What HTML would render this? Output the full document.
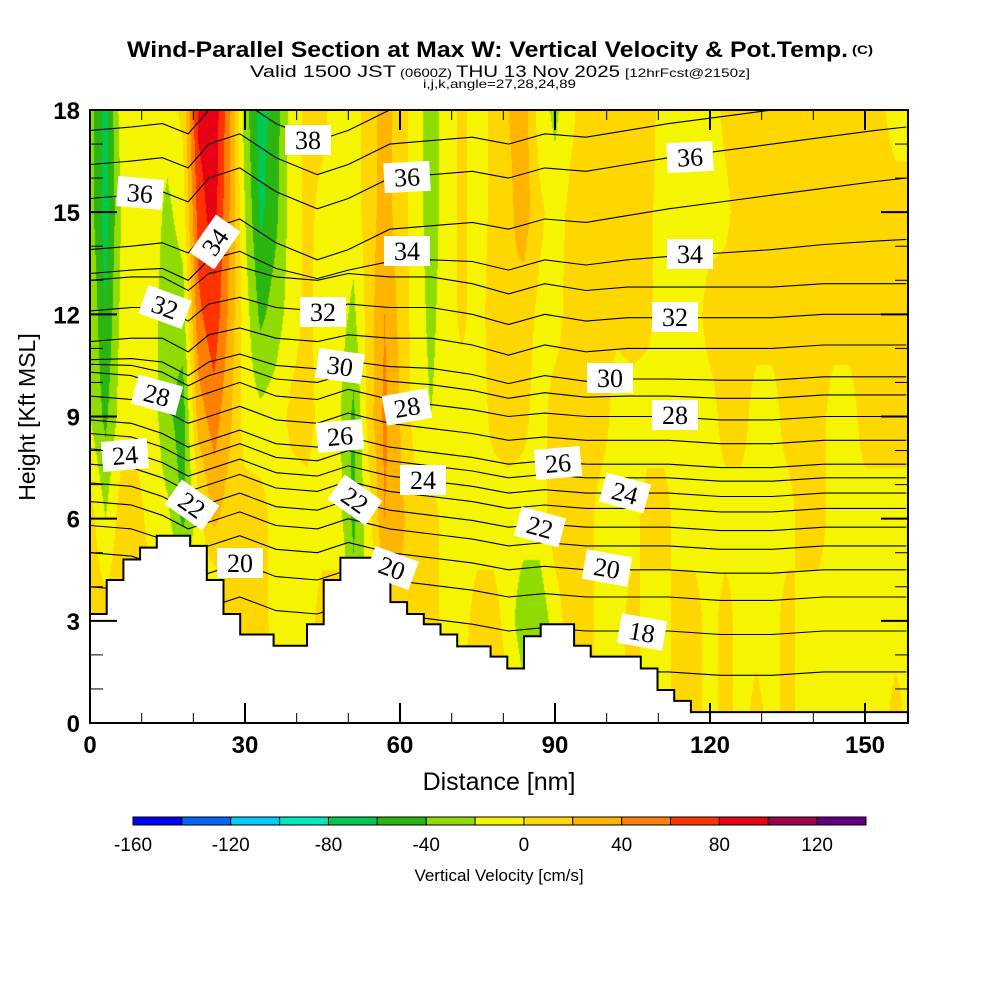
<!DOCTYPE html>
<html><head><meta charset="utf-8">
<style>
html,body{margin:0;padding:0;background:#fff;}
#wrap{position:relative;width:1000px;height:1000px;overflow:hidden;}
canvas{position:absolute;left:90px;top:110px;}
svg{position:absolute;left:0;top:0;}
</style></head>
<body>
<div id="wrap">
<canvas id="field" width="818" height="613"></canvas>
<svg id="svg" width="1000" height="1000" xmlns="http://www.w3.org/2000/svg">
  <defs><clipPath id="plotclip"><rect x="90" y="110" width="818" height="613"/></clipPath></defs>
  <g id="title" font-family="Liberation Sans, sans-serif" fill="#000">
    <text x="127" y="57" font-size="22" font-weight="bold" textLength="721" lengthAdjust="spacingAndGlyphs">Wind-Parallel Section at Max W: Vertical Velocity &amp; Pot.Temp.</text>
    <text x="852" y="54" font-size="12" font-weight="bold" textLength="21" lengthAdjust="spacingAndGlyphs">(C)</text>
    <text x="250" y="77" font-size="17"><tspan textLength="146" lengthAdjust="spacingAndGlyphs">Valid 1500 JST</tspan><tspan x="400" font-size="12" textLength="52" lengthAdjust="spacingAndGlyphs">(0600Z)</tspan><tspan x="456" textLength="164" lengthAdjust="spacingAndGlyphs">THU 13 Nov 2025</tspan><tspan x="625" font-size="12" textLength="125" lengthAdjust="spacingAndGlyphs">[12hrFcst@2150z]</tspan></text>
    <text x="423" y="88" font-size="12" textLength="153" lengthAdjust="spacingAndGlyphs">i,j,k,angle=27,28,24,89</text>
  </g>
  <g id="lines" clip-path="url(#plotclip)"></g>
  <g id="terrain"></g>
  <g id="labels"></g>
  <g id="axes"></g>
  <g id="cbar"></g>
</svg>
</div>
<script>
// ---------- data ----------
const wCols = [0,3,6,9,12,15,18,21,24,27,30,33,36,39,42,45,48,51,54,57,60,63,66,69,72,75,78,81,84,87,90,93,96,99,102,105,108,111,114,117,120,123,126,129,132,135,138,141,144,147,150,153,156,159];
const wHeights = [18,15,12,9,6,3,0];
const wRow18 = [-30,-70,-10,-10,-10,-10,5,85,95,45,-30,-70,-50,-10,5,5,-10,-10,10,30,10,-10,-30,-10,5,-10,5,20,30,-10,-25,-5,10,10,10,10,10,-10,-10,-10,-10,5,10,10,10,10,10,10,10,10,10,5,-10,-10];
const wRow15 = [-30,-70,-20,-10,-10,-25,-10,70,90,40,-20,-65,-45,-10,5,-5,-10,-10,10,30,10,-10,-30,-10,5,-10,5,15,30,5,-10,5,10,10,10,10,5,-10,-10,-10,-10,-5,10,10,10,10,10,10,10,10,10,10,10,10];
const wRow12 = [-20,-60,-15,-10,-10,-35,-30,55,75,35,-10,-45,-30,-10,5,-10,-10,-25,10,40,15,-10,-25,-10,5,-10,10,20,10,-5,-10,10,10,10,5,10,5,-10,-10,-10,10,10,10,10,10,10,10,10,10,10,10,10,10,10];
const wRow9 = [-20,-45,-10,-10,-10,-35,-50,30,50,25,-10,-15,-10,5,10,-10,-15,-45,10,45,20,-10,-20,-10,-10,-10,5,10,5,-10,10,10,10,10,-10,-10,-10,-10,-10,-10,-10,10,10,-10,-10,10,10,10,-10,-10,10,10,10,10];
const wRow6 = [10,-20,10,10,-10,-15,-45,-10,25,10,10,10,-10,-10,-10,-10,-10,-45,-10,40,25,10,10,-10,-10,-10,-10,-10,-10,-10,10,10,10,-10,-10,-10,10,10,-10,-10,-10,-10,-10,-10,-10,-10,10,10,-10,-10,-10,-10,-10,-10];
const wRow3 = [10,10,10,10,10,10,10,-10,-30,10,10,10,-10,-10,-10,10,10,-30,-10,10,15,10,10,-10,-10,10,10,-10,-35,-35,-10,10,10,-10,-10,10,-10,-10,10,10,-10,10,-10,-10,-10,10,-10,-10,-10,-10,-10,-10,-10,-10];
const wRow0 = [10,10,10,10,10,10,10,10,10,10,10,10,10,10,10,10,10,10,10,10,10,10,10,10,10,10,10,10,-10,-10,-10,10,10,-10,-10,10,-10,-10,10,10,-10,10,-10,10,-10,10,-10,-10,-10,-10,-10,-10,10,-10];
const wRows = [wRow18,wRow15,wRow12,wRow9,wRow6,wRow3,wRow0];

const binEdges = [-160,-140,-120,-100,-80,-60,-40,-20,0,20,40,60,80,100,120,140];
const binColors = ["#0000ff","#0066ff","#00ccff","#00e8c0","#00c850","#2ab510","#90dc00","#f5f500","#ffd700","#ffb400","#ff7f00","#ff3300","#e80014","#a00046","#600080"];
const cbarTicks = [-160,-120,-80,-40,0,40,80,120];

const terrainStep = 158.3/49;
const terrainKft = [3.2,4.2,4.8,5.15,5.5,5.5,5.2,4.2,3.2,2.6,2.6,2.27,2.27,2.9,4.2,4.85,4.85,4.85,3.55,3.2,2.9,2.6,2.25,2.25,1.95,1.6,2.55,2.9,2.9,2.27,1.95,1.95,1.95,1.6,0.97,0.65,0.32,0.32,0.32,0.32,0.32,0.32,0.32,0.32,0.32,0.32,0.32,0.32,0.32];

const thetaLevels = [17,18,19,20,21,22,23,24,25,26,27,28,29,30,31,32,33,34,35,36,37,38];
const thetaBase = [1.5,2.7,3.7,4.5,5.2,5.75,6.3,6.75,7.2,7.6,8.3,9.0,9.6,10.1,11.0,11.9,12.8,13.7,15.1,16.6,17.6,18.6];
const thetaX = [0,8,14,19,23,29,36,44,50,58,66,74,81,88,96,104,112,122,132,142,152,158];
const waveLow = [1.3,1.2,0.9,0.5,0.7,1.0,0.6,0.5,0.8,0.5,0.35,0.2,0,0.1,0,0,0,-0.1,-0.1,0,0,0];
const waveHigh = [0.2,0.3,0.3,-0.1,0.4,0.6,0.3,0.2,0.4,0.3,0.3,0.1,-0.2,0.1,-0.1,0,0,0,0,0.1,0.1,0.1];
const waveTop = [-1.2,-1.1,-1.0,-1.3,-0.6,-0.3,-1.0,-1.5,-1.2,-0.6,-0.5,-0.4,-0.6,-0.3,-0.4,-0.2,0,0.2,0.4,0.6,0.8,0.9];

const labelText = ["38","36","36","36","34","34","34","32","32","32","30","30","28","28","28","26","26","24","24","24","22","22","22","20","20","20","18"];
const labelPos = [[308,140,0],[140,193,5],[407,177,-3],[690,157,-3],[215,242,-55],[407,251,0],[690,254,0],[165,307,20],[323,312,0],[675,317,0],[340,366,8],[610,378,0],[157,395,15],[407,407,-10],[675,415,0],[340,436,-5],[558,463,-5],[125,455,-5],[423,480,0],[625,493,15],[192,505,35],[355,500,35],[540,527,15],[240,563,0],[392,568,20],[607,568,10],[642,632,10]];

const xTicks = [0,30,60,90,120,150];
const yTicks = [0,3,6,9,12,15,18];

// ---------- scales ----------
const X0=90, X1=908, Y0=723, Y1=110;
const xScale = nm => X0 + nm*(155/30);
const yScale = k => Y0 - k*(613/18);
const NS="http://www.w3.org/2000/svg";
function mk(tag, attrs, parent){const e=document.createElementNS(NS,tag);for(const k in attrs)e.setAttribute(k,attrs[k]);if(parent)parent.appendChild(e);return e;}

// ---------- field ----------
function hex(c){return [parseInt(c.substr(1,2),16),parseInt(c.substr(3,2),16),parseInt(c.substr(5,2),16)];}
const rgb = binColors.map(hex);
(function(){
  const cv=document.getElementById('field'),ctx=cv.getContext('2d');
  const img=ctx.createImageData(818,613);
  for(let py=0;py<613;py++){
    const k=(Y0-(110+py+0.5))/(613/18);
    let r=0; while(r<wHeights.length-2 && k<wHeights[r+1]) r++;
    const h0=wHeights[r],h1=wHeights[r+1];
    const fy=Math.min(1,Math.max(0,(h0-k)/(h0-h1)));
    for(let px=0;px<818;px++){
      const nm=(px+0.5)/(155/30);
      let c=Math.floor(nm/3); if(c>wCols.length-2)c=wCols.length-2;
      const fx=Math.min(1,Math.max(0,(nm-wCols[c])/3));
      const a=wRows[r][c]*(1-fx)+wRows[r][c+1]*fx;
      const b=wRows[r+1][c]*(1-fx)+wRows[r+1][c+1]*fx;
      const v=a*(1-fy)+b*fy;
      let bi=binColors.length-1; for(let i=0;i<binColors.length;i++){if(v<binEdges[i+1]){bi=i;break;}}
      const o=(py*818+px)*4, col=rgb[bi];
      img.data[o]=col[0];img.data[o+1]=col[1];img.data[o+2]=col[2];img.data[o+3]=255;
    }
  }
  ctx.putImageData(img,0,0);
})();

// ---------- theta contours ----------
const gLines=document.getElementById('lines');
thetaLevels.forEach((lev,li)=>{
  const f1=Math.min(1,Math.max(0,(lev-28)/3)), f2=Math.min(1,Math.max(0,(lev-33)/2));
  const pts=thetaX.map((x,i)=>{
    const w=(waveLow[i]*(1-f1)+waveHigh[i]*f1)*(1-f2)+waveTop[i]*f2;
    return xScale(x).toFixed(1)+","+yScale(thetaBase[li]+w).toFixed(1);
  }).join(" ");
  const pl=mk('polyline',{points:pts,fill:'none',stroke:'#000','stroke-width':1.1},gLines);
  
  
});

// ---------- terrain ----------
(function(){
  const g=document.getElementById('terrain');
  let d="M"+X0+","+Y0;
  terrainKft.forEach((h,i)=>{
    const xa=xScale(i*terrainStep), xb=Math.min(X1,xScale((i+1)*terrainStep));
    d+=" L"+xa.toFixed(1)+","+yScale(h).toFixed(1)+" L"+xb.toFixed(1)+","+yScale(h).toFixed(1);
  });
  d+=" L"+X1+","+Y0+" Z";
  const p=mk('path',{d:d,fill:'#fff',stroke:'#000','stroke-width':2},g);
  
  
})();

// ---------- contour labels ----------
(function(){
  const g=document.getElementById('labels');
  labelText.forEach((t,i)=>{
    const [x,y,a]=labelPos[i];
    const gg=mk('g',{transform:`translate(${x},${y}) rotate(${a})`},g);
    
    
    mk('rect',{x:-23,y:-15,width:46,height:30,fill:'#fff'},gg);
    const tx=mk('text',{x:0,y:9,'text-anchor':'middle','font-family':'Liberation Serif, serif','font-size':26,fill:'#000'},gg);
    tx.textContent=t;
  });
})();

// ---------- axes ----------
(function(){
  const g=document.getElementById('axes');
  mk('rect',{x:X0,y:Y1,width:X1-X0,height:Y0-Y1,fill:'none',stroke:'#000','stroke-width':2},g);
  for(let v=0;v<=158;v+=10){
    const x=xScale(v), L=(v%30===0)?20:10;
    mk('line',{x1:x,y1:Y0,x2:x,y2:Y0-L,stroke:'#000','stroke-width':(v%30===0)?2:1},g);
    mk('line',{x1:x,y1:Y1,x2:x,y2:Y1+L,stroke:'#000','stroke-width':(v%30===0)?2:1},g);
  }
  for(let v=0;v<=18;v++){
    const y=yScale(v), L=(v%3===0)?27:13;
    mk('line',{x1:X0,y1:y,x2:X0+L,y2:y,stroke:'#000','stroke-width':(v%3===0)?2:1},g);
    mk('line',{x1:X1,y1:y,x2:X1-L,y2:y,stroke:'#000','stroke-width':(v%3===0)?2:1},g);
  }
  xTicks.forEach(v=>{
    const t=mk('text',{x:xScale(v),y:753,'text-anchor':'middle','font-family':'Liberation Sans, sans-serif','font-size':24,'font-weight':'bold'},g);
    
    
    t.textContent=v;
  });
  yTicks.forEach(v=>{
    const t=mk('text',{x:80,y:yScale(v)+9,'text-anchor':'end','font-family':'Liberation Sans, sans-serif','font-size':24,'font-weight':'bold'},g);
    
    
    t.textContent=v;
  });
  const xt=mk('text',{x:499,y:790,'text-anchor':'middle','font-family':'Liberation Sans, sans-serif','font-size':25},g);
  
  
  xt.textContent='Distance [nm]';
  const yt=mk('text',{x:0,y:0,'text-anchor':'middle','font-family':'Liberation Sans, sans-serif','font-size':23,transform:'translate(35,417) rotate(-90)'},g);
  
  
  yt.textContent='Height [Kft MSL]';
})();

// ---------- colorbar ----------
(function(){
  const g=document.getElementById('cbar');
  const cx0=133, cx1=866, bw=(cx1-cx0)/binColors.length;
  const cScale=v=>cx0+(v-binEdges[0])/20*bw;
  binColors.forEach((c,i)=>{
    const r=mk('rect',{x:cScale(binEdges[i]),y:817,width:bw,height:8,fill:c,stroke:'#000','stroke-width':1},g);
    
    
  });
  cbarTicks.forEach(v=>{
    const t=mk('text',{x:cScale(v),y:851,'text-anchor':'middle','font-family':'Liberation Sans, sans-serif','font-size':19},g);
    
    
    t.textContent=v;
  });
  const t=mk('text',{x:499,y:881,'text-anchor':'middle','font-family':'Liberation Sans, sans-serif','font-size':17},g);
  
  
  t.textContent='Vertical Velocity [cm/s]';
})();
</script>
</body></html>
